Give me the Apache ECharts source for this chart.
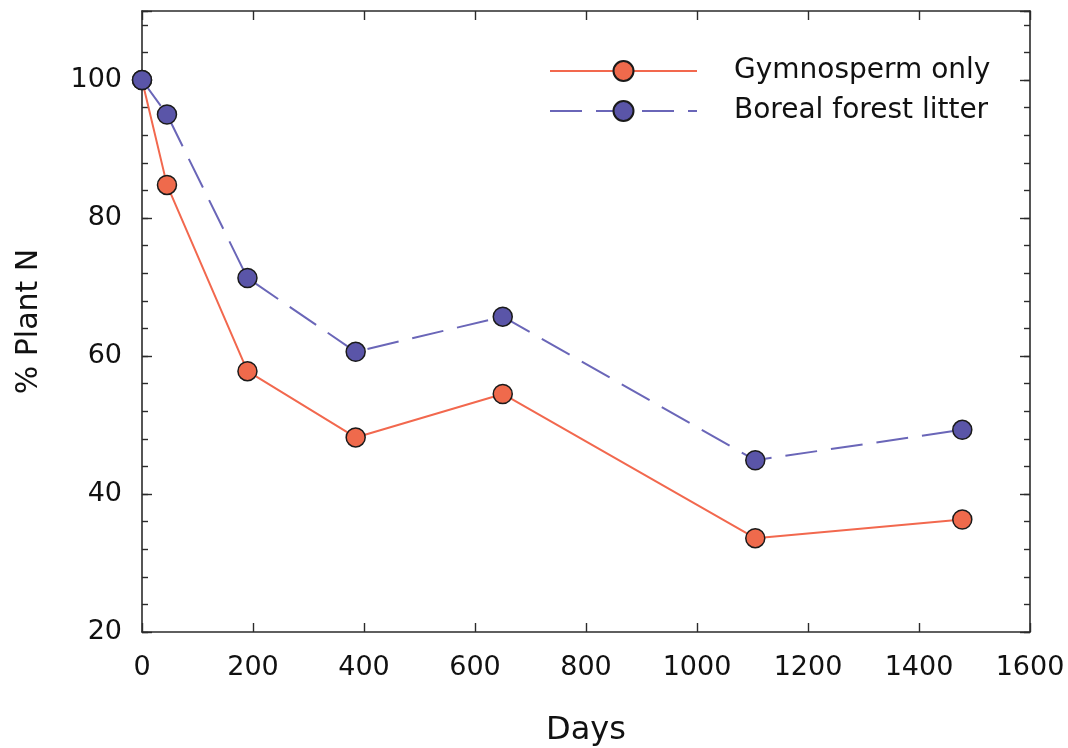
<!DOCTYPE html>
<html><head><meta charset="utf-8">
<script src="https://cdn.jsdelivr.net/npm/echarts@6/dist/echarts.min.js"></script>
<style>html,body{margin:0;padding:0;background:#fff}#c{width:1068px;height:748px}</style>
</head><body><div id="c"></div>
<script>
const days = [0, 45, 190, 385, 650, 1105, 1478];
const gymnosperm = [100, 84.8, 57.8, 48.2, 54.5, 33.6, 36.3];
const boreal = [100, 95.0, 71.3, 60.6, 65.7, 44.9, 49.3];
const seriesNames = ['Gymnosperm only', 'Boreal forest litter'];
const xTitle = 'Days';
const yTitle = '% Plant N';

const FONT = 'DejaVu Sans, Liberation Sans, Arial, sans-serif';
const AX = '#2b2b2b';
const chart = echarts.init(document.getElementById('c'), null, {renderer: 'canvas'});

function yAx(pos, interval, len, labels, line) {
  return {
    type: 'value', position: pos, min: 20, max: 110, interval: interval,
    axisLine: {show: line, lineStyle: {color: AX, width: 1.6}},
    axisTick: {show: true, inside: true, length: len, lineStyle: {color: AX, width: 1.4}},
    axisLabel: {show: labels, fontSize: 27, color: '#111', fontFamily: FONT, margin: 20,
      formatter: v => (v % 20 === 0 && v <= 100 ? String(v) : '')},
    splitLine: {show: false},
    name: labels ? yTitle : '', nameLocation: 'middle', nameGap: 98, nameRotate: 90,
    nameTextStyle: {fontSize: 30, color: '#111', fontFamily: FONT}
  };
}
function xAx(pos, labels) {
  return {
    type: 'value', position: pos, min: 0, max: 1600, interval: 200,
    axisLine: {show: true, lineStyle: {color: AX, width: 1.6}},
    axisTick: {show: true, inside: true, length: 9, lineStyle: {color: AX, width: 1.4}},
    axisLabel: {show: labels, fontSize: 27, color: '#111', fontFamily: FONT, margin: 22,
      formatter: v => String(v)},
    splitLine: {show: false},
    name: labels ? xTitle : '', nameLocation: 'middle', nameGap: 83,
    nameTextStyle: {fontSize: 32, color: '#111', fontFamily: FONT}
  };
}

chart.setOption({
  backgroundColor: '#fff',
  animation: false,
  grid: {left: 142, right: 38, top: 11, bottom: 116, containLabel: false, outerBoundsMode: 'none'},
  legend: {
    left: 544, top: 52, orient: 'vertical', itemWidth: 147, itemHeight: 25, itemGap: 12,
    textStyle: {fontSize: 28, color: '#111', fontFamily: FONT, padding: [0, 0, 0, 32]},
    data: seriesNames
  },
  xAxis: [xAx('bottom', true), xAx('top', false)],
  yAxis: [
    yAx('left', 20, 10, true, true),
    yAx('left', 4, 6, false, false),
    yAx('right', 20, 10, false, true),
    yAx('right', 4, 6, false, false)
  ],
  series: [
    {
      name: seriesNames[0], type: 'line', xAxisIndex: 0, yAxisIndex: 0,
      data: days.map((d, i) => [d, gymnosperm[i]]),
      symbol: 'circle', symbolSize: 19,
      lineStyle: {color: '#F2684E', width: 2},
      itemStyle: {color: '#EF6A4C', borderColor: '#1a1a1a', borderWidth: 1.5},
      z: 3
    },
    {
      name: seriesNames[1], type: 'line', xAxisIndex: 0, yAxisIndex: 0,
      data: days.map((d, i) => [d, boreal[i]]),
      symbol: 'circle', symbolSize: 19,
      lineStyle: {color: '#6A66B8', width: 2, type: [32, 14]},
      itemStyle: {color: '#5A55A8', borderColor: '#1a1a1a', borderWidth: 1.5},
      z: 4
    }
  ]
});
</script></body></html>
